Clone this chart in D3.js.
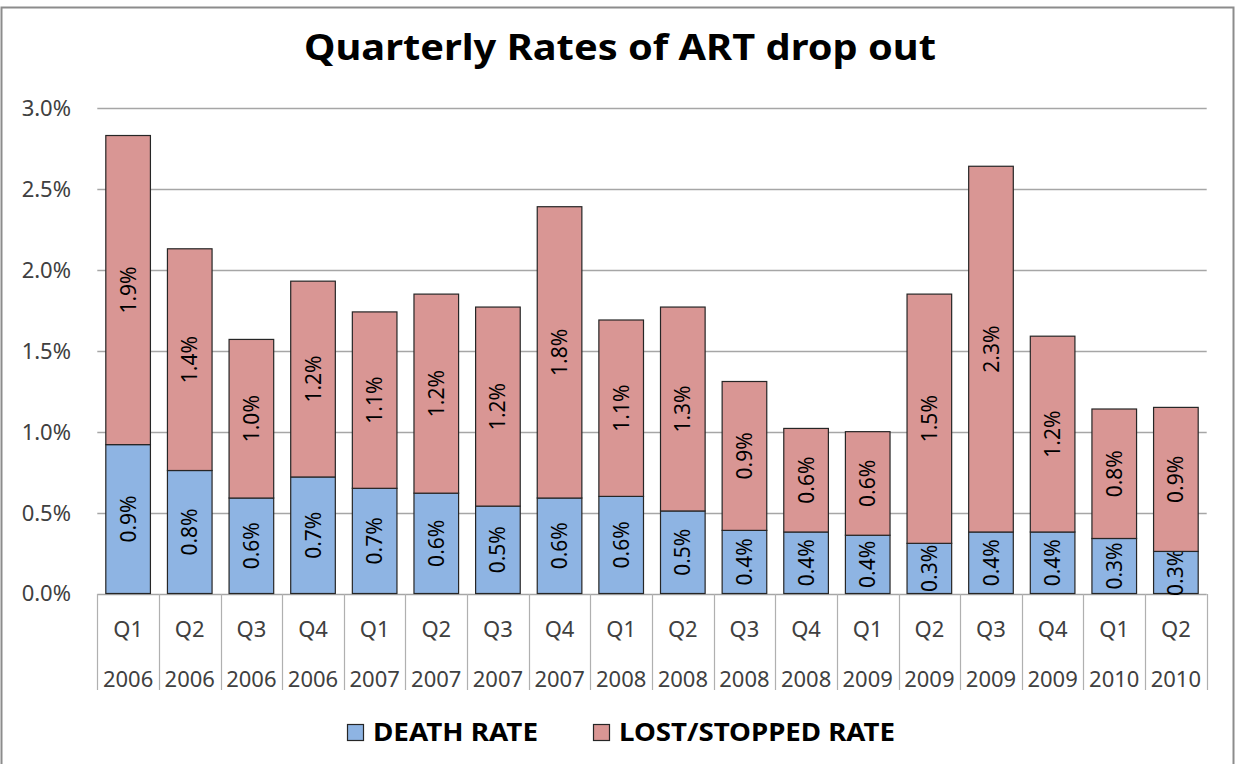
<!DOCTYPE html>
<html>
<head>
<meta charset="utf-8">
<script src="https://cdn.jsdelivr.net/npm/d3@7/dist/d3.min.js"></script>
<style>
  body { margin: 0; background: #fff; }
  text { font-family: "Noto Sans", "Open Sans", sans-serif; }
</style>
</head>
<body>
<svg id="chart"></svg>
<script>
var width = 1236;
var height = 764;

// quarters and years along the category axis
var quarters = ["Q1", "Q2", "Q3", "Q4", "Q1", "Q2", "Q3", "Q4", "Q1", "Q2", "Q3", "Q4", "Q1", "Q2", "Q3", "Q4", "Q1", "Q2"];
var years = ["2006", "2006", "2006", "2006", "2007", "2007", "2007", "2007", "2008", "2008", "2008", "2008", "2009", "2009", "2009", "2009", "2010", "2010"];

// rates in percent
var deathRate = [0.92, 0.76, 0.59, 0.72, 0.65, 0.62, 0.54, 0.59, 0.60, 0.51, 0.39, 0.38, 0.36, 0.31, 0.38, 0.38, 0.34, 0.26];
var lostRate  = [1.91, 1.37, 0.98, 1.21, 1.09, 1.23, 1.23, 1.80, 1.09, 1.26, 0.92, 0.64, 0.64, 1.54, 2.26, 1.21, 0.80, 0.89];

var yTicks = [0, 0.5, 1.0, 1.5, 2.0, 2.5, 3.0];

var seriesKeys = ["death", "lost"];
var seriesNames = ["DEATH RATE", "LOST/STOPPED RATE"];
var seriesColors = ["#8eb4e3", "#d99694"];

var rows = quarters.map(function (q, i) {
  return { idx: i, death: deathRate[i], lost: lostRate[i] };
});

var svg = d3.select("#chart")
  .attr("width", width)
  .attr("height", height);

svg.append("rect")
  .attr("x", 0).attr("y", 0)
  .attr("width", width).attr("height", height)
  .attr("fill", "#fff");

// outer chart border
svg.append("rect")
  .attr("x", 1.5).attr("y", 7.5)
  .attr("width", 1232).attr("height", 760)
  .attr("fill", "none")
  .attr("stroke", "#8c8c8c")
  .attr("stroke-width", 2);

var x = d3.scaleBand()
  .domain(rows.map(function (d) { return d.idx; }))
  .range([97.3, 1206.7])
  .paddingInner(0.276)
  .paddingOuter(0.138);

var y = d3.scaleLinear()
  .domain([0, 3])
  .range([593.5, 108]);

// gridlines
svg.append("g")
  .selectAll("line")
  .data(yTicks)
  .join("line")
  .attr("x1", 97.3).attr("x2", 1206.7)
  .attr("y1", function (d) { return Math.round(y(d)) + 0.5; })
  .attr("y2", function (d) { return Math.round(y(d)) + 0.5; })
  .attr("stroke", "#a6a6a6")
  .attr("stroke-width", 1.3);

// y axis labels
svg.append("g")
  .selectAll("text")
  .data(yTicks)
  .join("text")
  .attr("x", 71)
  .attr("y", function (d) { return y(d); })
  .attr("dy", "0.36em")
  .attr("text-anchor", "end")
  .attr("font-size", 22)
  .attr("fill", "#404040")
  .text(function (d) { return d.toFixed(1) + "%"; });

// category separators below the axis
var step = x.step();
var bounds = d3.range(quarters.length + 1).map(function (i) { return 97.3 + i * step; });
svg.append("g")
  .selectAll("line")
  .data(bounds)
  .join("line")
  .attr("x1", function (d) { return Math.round(d) + 0.5; })
  .attr("x2", function (d) { return Math.round(d) + 0.5; })
  .attr("y1", 594).attr("y2", 690)
  .attr("stroke", "#b0b0b0")
  .attr("stroke-width", 1.2);

var catLabels = svg.append("g");
catLabels.selectAll("text.q")
  .data(rows)
  .join("text")
  .attr("class", "q")
  .attr("x", function (d) { return x(d.idx) + x.bandwidth() / 2; })
  .attr("y", 629)
  .attr("dy", "0.36em")
  .attr("text-anchor", "middle")
  .attr("font-size", 22)
  .attr("fill", "#404040")
  .text(function (d) { return quarters[d.idx]; });
catLabels.selectAll("text.yr")
  .data(rows)
  .join("text")
  .attr("class", "yr")
  .attr("x", function (d) { return x(d.idx) + x.bandwidth() / 2; })
  .attr("y", 679)
  .attr("dy", "0.36em")
  .attr("text-anchor", "middle")
  .attr("font-size", 22)
  .attr("fill", "#404040")
  .text(function (d) { return years[d.idx]; });

// stacked bars
var stacked = d3.stack().keys(seriesKeys)(rows);

var layers = svg.append("g")
  .selectAll("g")
  .data(stacked)
  .join("g")
  .attr("fill", function (d, i) { return seriesColors[i]; });

layers.selectAll("rect")
  .data(function (d) { return d; })
  .join("rect")
  .attr("x", function (d) { return x(d.data.idx); })
  .attr("y", function (d) { return y(d[1]); })
  .attr("width", x.bandwidth())
  .attr("height", function (d) { return y(d[0]) - y(d[1]); })
  .attr("stroke", "#262626")
  .attr("stroke-width", 1.2);

// value labels, rotated
layers.selectAll("text")
  .data(function (d) { return d; })
  .join("text")
  .attr("transform", function (d) {
    var cx = x(d.data.idx) + x.bandwidth() / 2;
    var cy = (y(d[0]) + y(d[1])) / 2;
    return "translate(" + cx + "," + cy + ")rotate(-90)";
  })
  .attr("dy", "0.36em")
  .attr("text-anchor", "middle")
  .attr("font-size", 21)
  .attr("fill", "#000")
  .text(function (d) { return (d[1] - d[0]).toFixed(1) + "%"; });

// title
svg.append("text")
  .attr("x", 620)
  .attr("y", 60)
  .attr("text-anchor", "middle")
  .attr("font-size", 35)
  .attr("font-weight", "bold")
  .attr("textLength", 632)
  .attr("lengthAdjust", "spacingAndGlyphs")
  .text("Quarterly Rates of ART drop out");

// legend
var legendX = [347, 593];
var legendW = [165, 276];
var legend = svg.append("g")
  .selectAll("g")
  .data(seriesNames)
  .join("g")
  .attr("transform", function (d, i) { return "translate(" + legendX[i] + ",724)"; });
legend.append("rect")
  .attr("x", 0.5).attr("y", 0.5)
  .attr("width", 16).attr("height", 16)
  .attr("fill", function (d, i) { return seriesColors[i]; })
  .attr("stroke", "#262626")
  .attr("stroke-width", 1.2);
legend.append("text")
  .attr("x", 26)
  .attr("y", 17)
  .attr("font-size", 25)
  .attr("font-weight", "bold")
  .attr("textLength", function (d, i) { return legendW[i]; })
  .attr("lengthAdjust", "spacingAndGlyphs")
  .text(function (d) { return d; });
</script>
</body>
</html>
